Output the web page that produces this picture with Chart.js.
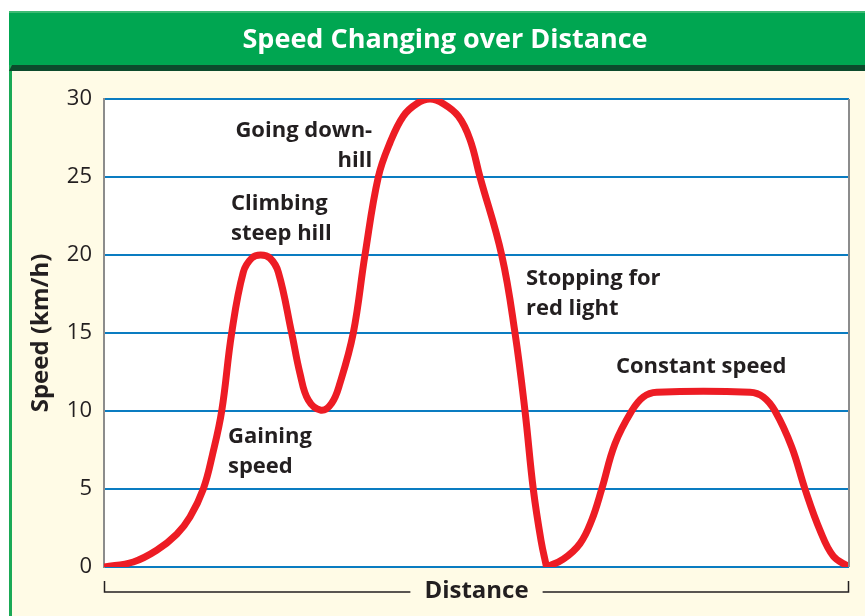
<!DOCTYPE html>
<html>
<head>
<meta charset="utf-8">
<script src="https://cdn.jsdelivr.net/npm/chart.js@4/dist/chart.umd.min.js"></script>
<style>
  html, body { margin: 0; padding: 0; background: #ffffff; }
  #wrap { width: 865px; height: 616px; position: relative; }
</style>
</head>
<body>
<div id="wrap"><canvas id="speedChart"></canvas></div>
<script>
// distance (0 - 100) and speed (km/h) up to the stop at the red light
var distanceToStop = [0, 3.93, 7.07, 9.76, 11.54, 13.33, 14.56, 15.80, 17.14, 18.70, 19.83, 21.03, 22.28, 23.40, 25.19, 26.31, 27.42,
    29.13, 30.56, 31.68, 33.46, 35.03, 36.82, 38.39, 40.17, 41.97, 43.76, 45.54, 47.56, 49.13, 50.47, 53.38,
    55.17, 56.51, 57.62, 58.66, 59.40];
var speedToStop = [0, 0.32, 1.07, 2.1, 3.2, 5, 7.2, 10, 15, 18.9, 19.8, 20, 19.8, 18.9, 15, 12.4, 10.7,
    10.05, 10.5, 11.8, 15, 20, 25, 27.2, 28.9, 29.7, 30, 29.7, 28.9, 27.4, 25, 20,
    15, 10, 5, 1.7, 0];
// after the red light: speed up, constant speed, slow down
var distanceAfterStop = [59.40, 61.65, 63.89, 65.46, 66.81, 68.59, 70.83, 72.39, 74.19, 86.71, 88.50, 90.07, 92.31, 94.09, 96.11, 97.89, 100];
var speedAfterStop = [0, 0.5, 1.5, 3.0, 5, 7.9, 10, 10.9, 11.2, 11.2, 10.9, 10, 7.7, 5, 2.35, 0.7, 0];

var yTicks = [0, 5, 10, 15, 20, 25, 30];
var chartTitle = 'Speed Changing over Distance';
var yTitle = 'Speed (km/h)';
var xTitle = 'Distance';

// text notes on the plot, anchored in data units
var notes = [
    { lines: ['Going down-', 'hill'], x: 36.0, y: 27.56, align: 'right' },
    { lines: ['Climbing', 'steep hill'], x: 17.05, y: 22.88, align: 'left' },
    { lines: ['Gaining', 'speed'], x: 16.64, y: 7.95, align: 'left' },
    { lines: ['Stopping for', 'red light'], x: 56.64, y: 18.08, align: 'left' },
    { lines: ['Constant speed'], x: 68.72, y: 12.44, align: 'left' }
];

function toPoints(xs, ys) {
    return xs.map(function (d, i) { return { x: d, y: ys[i] }; });
}

var FONT = '"Open Sans", "Noto Sans", sans-serif';
var INK = '#231f20';
var RED = '#ed1c24';

// box, green title bar, cream panel, white plot area
var framePlugin = {
    id: 'frame',
    beforeDraw: function (chart) {
        var ctx = chart.ctx, a = chart.chartArea;
        ctx.save();
        ctx.fillStyle = '#ffffff';
        ctx.fillRect(0, 0, chart.width, chart.height);
        ctx.fillStyle = '#fffbe6';
        ctx.fillRect(12, 70, chart.width - 12, chart.height - 70);
        ctx.fillStyle = '#1aa955';
        ctx.fillRect(9, 11, 3, chart.height - 11);
        ctx.fillStyle = '#00a651';
        ctx.fillRect(9, 11, chart.width - 9, 54);
        ctx.fillStyle = '#3dba73';
        ctx.fillRect(9, 11, chart.width - 9, 2);
        ctx.fillStyle = '#0c4a2c';
        ctx.beginPath();
        ctx.moveTo(12, 65); ctx.lineTo(chart.width, 65); ctx.lineTo(chart.width, 71);
        ctx.lineTo(9, 71); ctx.closePath();
        ctx.fill();
        ctx.fillStyle = '#ffffff';
        ctx.font = 'bold 27px ' + FONT;
        ctx.textAlign = 'center';
        ctx.textBaseline = 'alphabetic';
        ctx.fillText(chartTitle, 445, 48);
        ctx.fillStyle = '#ffffff';
        ctx.fillRect(a.left, a.top, a.right - a.left, a.bottom - a.top);
        ctx.restore();
    },
    afterDatasetsDraw: function (chart) {
        var ctx = chart.ctx, a = chart.chartArea;
        var xs = chart.scales.x, ys = chart.scales.y;
        ctx.save();
        // right edge of the plot
        ctx.strokeStyle = '#8c8c8c';
        ctx.lineWidth = 2;
        ctx.beginPath();
        ctx.moveTo(a.right, a.top); ctx.lineTo(a.right, a.bottom);
        ctx.stroke();
        // notes
        ctx.fillStyle = INK;
        ctx.font = 'bold 22px ' + FONT;
        ctx.textBaseline = 'alphabetic';
        notes.forEach(function (n) {
            var px = xs.getPixelForValue(n.x), py = ys.getPixelForValue(n.y);
            ctx.textAlign = n.align;
            n.lines.forEach(function (t, i) { ctx.fillText(t, px, py + i * 30); });
        });
        // bracket under the x axis
        var mid = (a.left + a.right) / 2;
        ctx.font = 'bold 24px ' + FONT;
        var half = ctx.measureText(xTitle).width / 2 + 14;
        var by = a.bottom + 25;
        ctx.strokeStyle = INK;
        ctx.lineWidth = 1.5;
        ctx.beginPath();
        ctx.moveTo(a.left + 0.5, by - 11); ctx.lineTo(a.left + 0.5, by); ctx.lineTo(mid - half, by);
        ctx.moveTo(mid + half, by); ctx.lineTo(a.right - 0.5, by); ctx.lineTo(a.right - 0.5, by - 11);
        ctx.stroke();
        ctx.restore();
    }
};

var lineStyle = { borderColor: RED, borderWidth: 7, pointRadius: 0, fill: false, tension: 0.4 };

var config = {
    type: 'line',
    data: {
        datasets: [
            Object.assign({ label: 'Before stop', data: toPoints(distanceToStop, speedToStop) }, lineStyle),
            Object.assign({ label: 'After stop', data: toPoints(distanceAfterStop, speedAfterStop) }, lineStyle)
        ]
    },
    options: {
        responsive: true,
        maintainAspectRatio: false,
        animation: false,
        layout: { padding: { top: 99, right: 16, bottom: 0, left: 0 } },
        plugins: {
            legend: { display: false },
            tooltip: { enabled: false }
        },
        scales: {
            x: {
                type: 'linear',
                min: 0,
                max: 100,
                ticks: { display: false },
                grid: { display: false },
                border: { display: false },
                title: {
                    display: true,
                    text: xTitle,
                    color: INK,
                    font: { family: FONT, size: 24, weight: 'bold' },
                    padding: { top: 0, bottom: 10 }
                },
                afterFit: function (s) { s.height = 49; }
            },
            y: {
                min: 0,
                max: 30,
                afterBuildTicks: function (s) { s.ticks = yTicks.map(function (v) { return { value: v }; }); },
                ticks: {
                    padding: 12,
                    color: INK,
                    font: { family: FONT, size: 22 }
                },
                grid: { color: '#0a7cc1', lineWidth: 2, drawTicks: false },
                border: { color: '#8c8c8c', width: 2 },
                title: {
                    display: true,
                    text: yTitle,
                    color: INK,
                    font: { family: FONT, size: 24, weight: 'bold' },
                    padding: { top: 27, bottom: 0 }
                },
                afterFit: function (s) { s.width = 104; }
            }
        }
    },
    plugins: [framePlugin]
};

var canvas = document.getElementById('speedChart');
var speedChart = new Chart(canvas, config);
</script>
</body>
</html>
